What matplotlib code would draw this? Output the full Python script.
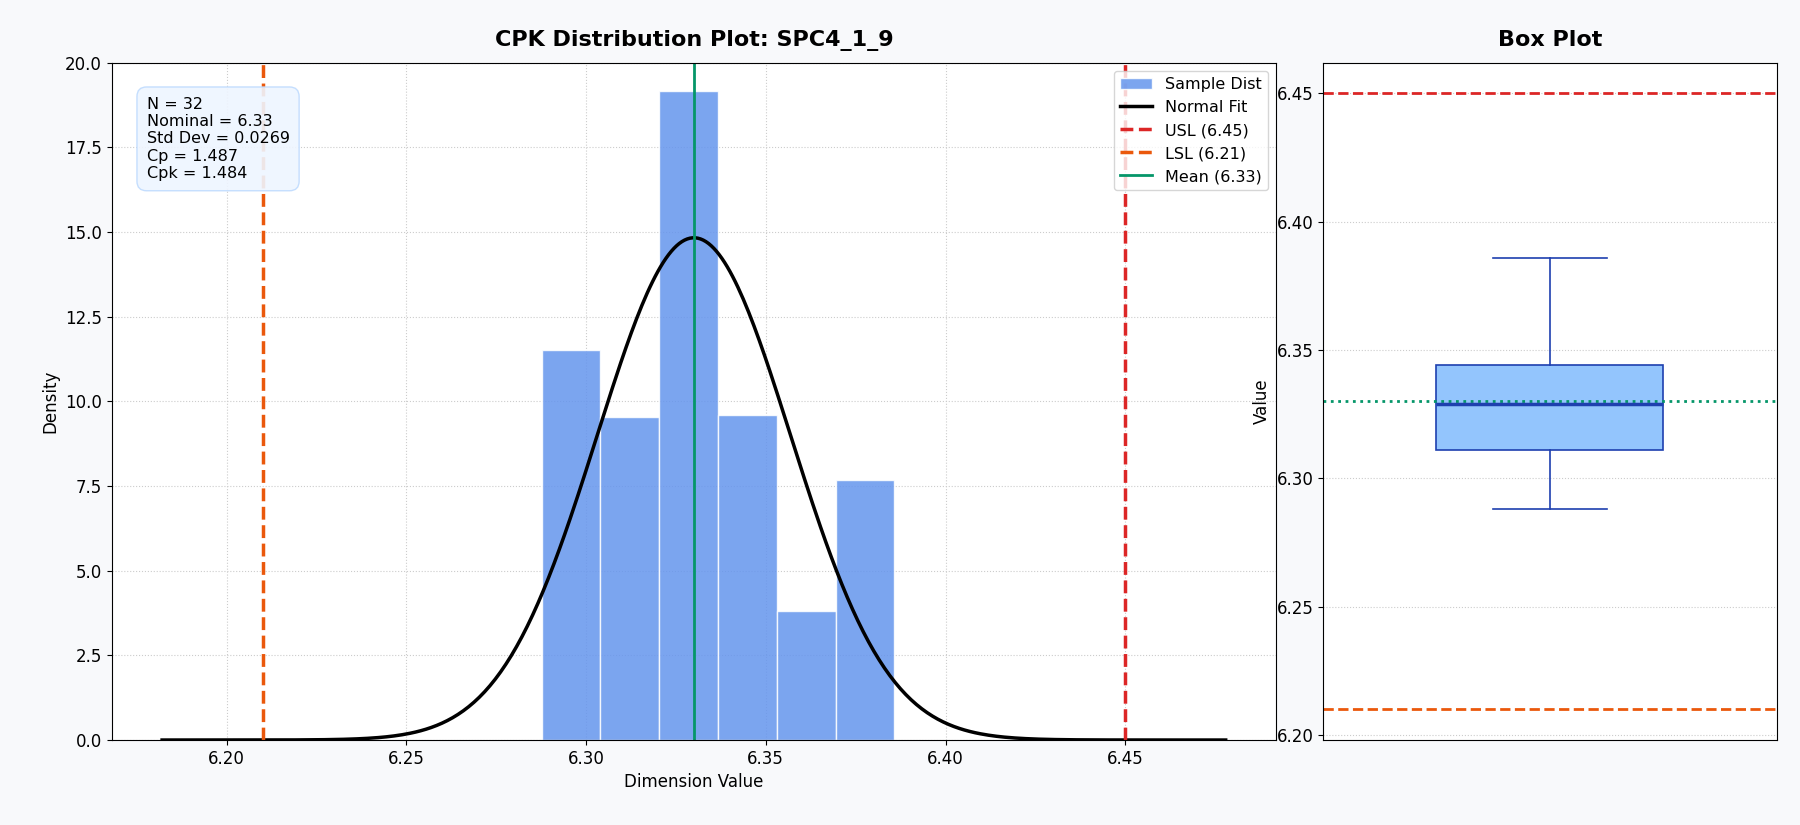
import numpy as np
import matplotlib
matplotlib.use("Agg")
import matplotlib.pyplot as plt

n = 32
mean = 6.33
std = 0.0269
usl, lsl = 6.45, 6.21
cp, cpk = 1.487, 1.484
bin_edges = [6.2877, 6.3040, 6.3204, 6.3367, 6.3530, 6.3694, 6.3857]
bin_counts = [6, 5, 10, 5, 2, 4]
box_stats = dict(whislo=6.288, q1=6.311, med=6.329, q3=6.344, whishi=6.386, mean=6.33)

fig = plt.figure(figsize=(18, 8.25), dpi=100, facecolor="#f8f9fb")
ax = fig.add_axes([0.062, 0.103, 0.647, 0.821])
bx = fig.add_axes([0.735, 0.103, 0.252, 0.821])

centers = [(a + b) / 2 for a, b in zip(bin_edges[:-1], bin_edges[1:])]
ax.hist(centers, bins=bin_edges, weights=bin_counts, density=True,
        color="#6495ED", alpha=0.85, edgecolor="white", linewidth=1, label="Sample Dist")
x = np.linspace(mean - 5.5 * std, mean + 5.5 * std, 400)
ax.plot(x, np.exp(-0.5 * ((x - mean) / std) ** 2) / (std * np.sqrt(2 * np.pi)),
        color="black", lw=2.5, label="Normal Fit")
ax.axvline(usl, color="#dc2626", ls="--", lw=2.5, label=f"USL ({usl:.2f})")
ax.axvline(lsl, color="#ea580c", ls="--", lw=2.5, label=f"LSL ({lsl:.2f})")
ax.axvline(mean, color="#059669", lw=2, label=f"Mean ({mean:.2f})")
ax.set_xlim(6.168, 6.492)
ax.set_ylim(0, 20)
ax.grid(True, ls=":", color="#cccccc")
ax.set_axisbelow(True)
ax.set_xlabel("Dimension Value", fontsize=12)
ax.set_ylabel("Density", fontsize=12)
ax.set_title("CPK Distribution Plot: SPC4_1_9", fontsize=16, fontweight="bold", pad=12)
ax.tick_params(labelsize=12)
ax.legend(loc="upper right", fontsize=11.5)
ax.text(0.03, 0.95, f"N = {n}\nNominal = {mean:.2f}\nStd Dev = {std:.4f}\nCp = {cp:.3f}\nCpk = {cpk:.3f}",
        transform=ax.transAxes, va="top", fontsize=11.5,
        bbox=dict(boxstyle="round,pad=0.6", facecolor="#eef5ff", edgecolor="#bfdbfe", alpha=0.9))

bx.bxp([box_stats], widths=0.5, patch_artist=True, showfliers=False,
       boxprops=dict(facecolor="#93c5fd", edgecolor="#1e40af", linewidth=1.2),
       whiskerprops=dict(color="#1e40af", linewidth=1.2),
       capprops=dict(color="#1e40af", linewidth=1.2),
       medianprops=dict(color="#1e40af", linewidth=2.5))
bx.axhline(usl, color="#dc2626", ls="--", lw=2)
bx.axhline(lsl, color="#ea580c", ls="--", lw=2)
bx.axhline(mean, color="#059669", ls=":", lw=2)
bx.set_ylim(6.198, 6.462)
bx.set_xticks([])
bx.grid(True, axis="y", ls=":", color="#cccccc")
bx.set_axisbelow(True)
bx.set_ylabel("Value", fontsize=12)
bx.set_title("Box Plot", fontsize=16, fontweight="bold", pad=12)
bx.tick_params(labelsize=12)

fig.savefig("out.png", dpi=100, facecolor=fig.get_facecolor())
